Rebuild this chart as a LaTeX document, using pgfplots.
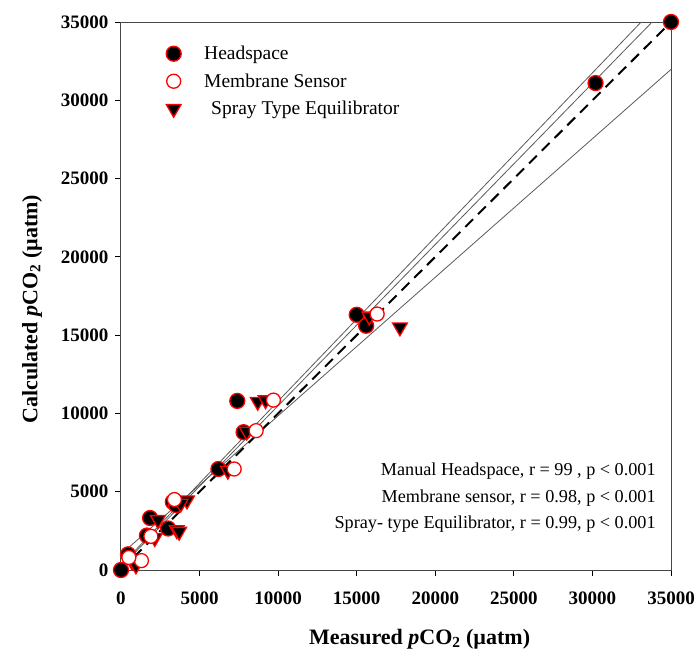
\documentclass[border=0pt]{standalone}
\usepackage{fontspec}
\setmainfont{Liberation Serif}
\usepackage{pgfplots}
\pgfplotsset{compat=1.18}
\definecolor{fitgray}{RGB}{90,90,90}
\definecolor{framegray}{RGB}{70,70,70}

\begin{document}
\begin{tikzpicture}
\path[use as bounding box] (-121pt,-87pt) rectangle (576pt,570pt);
\begin{axis}[
    width=550pt, height=548pt, scale only axis,
    xmin=0, xmax=35000, ymin=0, ymax=35000,
    xtick={0,5000,...,35000}, ytick={0,5000,...,35000},
    scaled ticks=false,
    /pgf/number format/1000 sep={},
    /pgf/number format/assume math mode=true,
    tick label style={font=\fontsize{19}{20}\selectfont\bfseries},
    xticklabel style={yshift=-12pt},
    yticklabel style={xshift=-3pt},
    xtick pos=left, ytick pos=left,
    tick align=outside,
    major tick length=6pt,
    tick style={black, line width=0.8pt},
    axis line style={framegray, line width=1pt},
    clip=false,
    xlabel={\textbf{Measured \textit{p}CO\textsubscript{2} (µatm)}},
    ylabel={\textbf{Calculated \textit{p}CO\textsubscript{2} (µatm)}},
    xlabel style={font=\fontsize{22}{24}\selectfont, at={(axis description cs:0.543,0)}, anchor=base, yshift=-74pt},
    ylabel style={font=\fontsize{22}{24}\selectfont, at={(axis description cs:0,0.476)}, anchor=center, yshift=89pt},
    legend style={at={(axis description cs:0,1)}, anchor=north west, xshift=42pt, yshift=-20pt,
        draw=none, fill=none, font=\fontsize{19.5}{21}\selectfont, row sep=8.5pt, column sep=21pt},
    legend cell align=left,
]

\addlegendimage{only marks, mark=*, mark size=7.5pt, mark options={draw=red, fill=black, line width=1.3pt}}
\addlegendentry{Headspace}
\addlegendimage{only marks, mark=*, mark size=7pt, mark options={draw=red, fill=white, line width=1.3pt}}
\addlegendentry{Membrane Sensor}
\addlegendimage{only marks, mark=triangle*, mark size=8.5pt, mark options={rotate=180, draw=red, fill=black, line width=1.3pt}}
\addlegendentry{\hspace{7pt}Spray Type Equilibrator}

% regression and confidence lines
\addplot[fitgray, line width=0.8pt, forget plot] coordinates {(0,300) (33100,35000)};
\addplot[fitgray, line width=0.8pt, forget plot] coordinates {(0,200) (33800,35000)};
\addplot[fitgray, line width=0.8pt, forget plot] coordinates {(0,1000) (35000,31970)};
% 1:1 line
\addplot[black, line width=2pt, dash pattern=on 11pt off 7pt, forget plot] coordinates {(0,0) (35000,35000)};

% Headspace
\addplot[only marks, mark=*, mark size=7.5pt, mark options={draw=red, fill=black, line width=1.3pt}, forget plot] table {
x y
0 0
35000 35000
30200 31100
15000 16300
15600 15600
7400 10800
7800 8800
6200 6450
3300 4350
3500 4150
1850 3320
1650 2200
3000 2650
450 1000
};

% Spray type equilibrator
\addplot[only marks, mark=triangle*, mark size=8.5pt, mark options={rotate=180, draw=red, fill=black, line width=1.3pt}, forget plot] table {
x y
15800 16200
17750 15500
8700 10750
9200 10850
8000 8850
6800 6350
4200 4450
3800 4250
2350 3200
2150 2050
3550 2550
3700 2450
700 550
950 300
};

% Membrane sensor
\addplot[only marks, mark=*, mark size=7pt, mark options={draw=red, fill=white, line width=1.3pt}, forget plot] table {
x y
16300 16350
9700 10850
8600 8900
7200 6450
3400 4500
1900 2150
1300 600
500 800
};

\node[align=right, anchor=east, font=\fontsize{18.2}{26.5}\selectfont] at (axis cs:34250,4620)
  {Manual Headspace, r = 99 , p < 0.001\\
   Membrane sensor, r = 0.98, p < 0.001\\
   Spray- type Equilibrator, r = 0.99, p < 0.001};

\end{axis}
\end{tikzpicture}
\end{document}
